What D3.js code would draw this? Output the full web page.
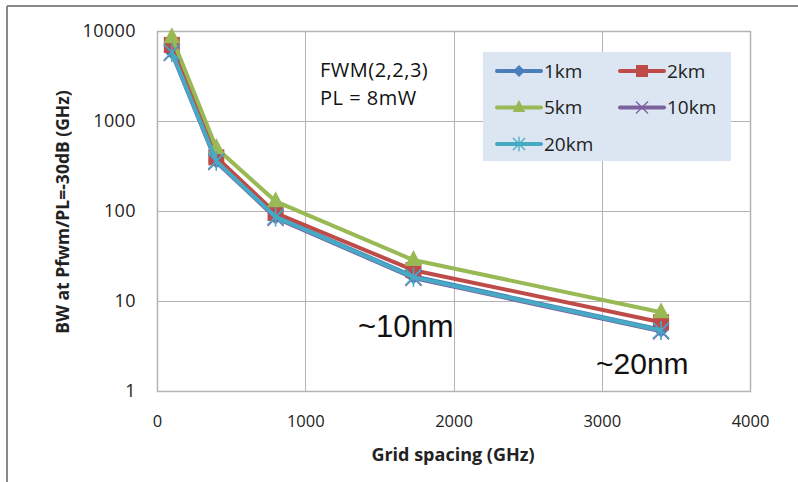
<!DOCTYPE html>
<html>
<head>
<meta charset="utf-8">
<script src="https://cdn.jsdelivr.net/npm/d3@7"></script>
<style>
  body { margin: 0; background: #fff; }
  svg { display: block; }
</style>
</head>
<body>
<div id="chart"></div>
<script>
// data
const gridSpacing = [100, 400, 800, 1730, 3400];
const seriesNames = ["1km", "2km", "5km", "10km", "20km"];
const bw1km  = [5900, 365, 87, 18.8, 4.8];
const bw2km  = [7000, 395, 95, 22, 5.8];
const bw5km  = [8500, 500, 128, 28.5, 7.5];
const bw10km = [5700, 350, 84, 18.0, 4.6];
const bw20km = [5800, 358, 86, 18.4, 4.7];
const xTicks = [0, 1000, 2000, 3000, 4000];
const yTicks = [1, 10, 100, 1000, 10000];

const series = [
    { key: "1km",  values: bw1km,  color: "#4a7ebb", marker: "diamond" },
    { key: "2km",  values: bw2km,  color: "#be4b48", marker: "square" },
    { key: "5km",  values: bw5km,  color: "#98b954", marker: "triangle" },
    { key: "10km", values: bw10km, color: "#7d60a0", marker: "cross" },
    { key: "20km", values: bw20km, color: "#46aac5", marker: "star" }
];

const width = 798, height = 482;
const margin = { left: 157, right: 48, top: 31, bottom: 91 };
const plotW = width - margin.left - margin.right;
const plotH = height - margin.top - margin.bottom;
const FONT = "'Open Sans', 'Liberation Sans', sans-serif";

const svg = d3.select("#chart").append("svg")
    .attr("width", width)
    .attr("height", height);

//outer frame (only top + left visible)
svg.append("line").attr("x1", 7).attr("x2", 798).attr("y1", 6).attr("y2", 6)
    .attr("stroke", "#888").attr("stroke-width", 2);
svg.append("line").attr("x1", 7).attr("x2", 7).attr("y1", 6).attr("y2", 482)
    .attr("stroke", "#888").attr("stroke-width", 2);

const x = d3.scaleLinear().domain([0, 4000]).range([0, plotW]);
const y = d3.scaleLog().domain([1, 10000]).range([plotH, 0]);

const g = svg.append("g").attr("transform", `translate(${margin.left},${margin.top})`);

//grid
g.append("g").selectAll("line.hgrid").data(yTicks)
    .join("line")
        .attr("class", "hgrid")
        .attr("x1", 0).attr("x2", plotW)
        .attr("y1", d => Math.round(y(d)) + 0.5).attr("y2", d => Math.round(y(d)) + 0.5)
        .attr("stroke", "#b3b3b3").attr("stroke-width", 1);
g.append("g").selectAll("line.vgrid").data(xTicks)
    .join("line")
        .attr("class", "vgrid")
        .attr("y1", 0).attr("y2", plotH)
        .attr("x1", d => Math.round(x(d)) + 0.5).attr("x2", d => Math.round(x(d)) + 0.5)
        .attr("stroke", "#b3b3b3").attr("stroke-width", 1);
g.append("rect")
    .attr("x", 0.5).attr("y", 0.5).attr("width", plotW).attr("height", plotH)
    .attr("fill", "none").attr("stroke", "#b3b3b3").attr("stroke-width", 1.5);

//axes
const xAxis = d3.axisBottom(x).tickValues(xTicks).tickFormat(d3.format("d")).tickSize(0).tickPadding(24);
const yAxis = d3.axisLeft(y).tickValues(yTicks).tickFormat(d3.format("d")).tickSize(0).tickPadding(21);
const xAxisG = g.append("g").attr("transform", `translate(0,${plotH})`).call(xAxis);
const yAxisG = g.append("g").call(yAxis);
xAxisG.select(".domain").remove();
yAxisG.select(".domain").remove();
xAxisG.selectAll("text")
    .attr("font-family", FONT).attr("font-size", 16.5).attr("fill", "#222");
yAxisG.selectAll("text")
    .attr("font-family", FONT).attr("font-size", 18).attr("fill", "#222")
    .attr("letter-spacing", 0.4);

//axis titles
svg.append("text")
    .attr("x", 453).attr("y", 461)
    .attr("text-anchor", "middle")
    .attr("font-family", FONT)
    .attr("font-size", 18).attr("font-weight", "bold").attr("fill", "#222")
    .text("Grid spacing (GHz)");
svg.append("text")
    .attr("transform", `translate(69,212) rotate(-90)`)
    .attr("text-anchor", "middle")
    .attr("font-family", FONT)
    .attr("font-size", 17.5).attr("font-weight", "bold").attr("fill", "#222")
    .text("BW at Pfwm/PL=-30dB  (GHz)");

//markers
function markerPath(type, s) {
    switch (type) {
        case "diamond": return `M0,${-s}L${s},0L0,${s}L${-s},0Z`;
        case "square": return `M${-s},${-s}H${s}V${s}H${-s}Z`;
        case "triangle": return `M0,${-s * 1.25}L${s * 1.05},${s * 0.75}L${-s * 1.05},${s * 0.75}Z`;
        case "cross": return `M${-s},${-s}L${s},${s}M${s},${-s}L${-s},${s}`;
        case "star": return `M${-s},${-s}L${s},${s}M${s},${-s}L${-s},${s}M0,${-s * 1.2}V${s * 1.2}`;
    }
}
const filled = t => t === "diamond" || t === "square" || t === "triangle";

const line = d3.line()
    .x((d, i) => x(gridSpacing[i]))
    .y(d => y(d));

const seriesG = g.selectAll("g.series").data(series)
    .join("g").attr("class", "series");
seriesG.append("path")
    .attr("d", d => line(d.values))
    .attr("fill", "none")
    .attr("stroke", d => d.color)
    .attr("stroke-width", 4)
    .attr("stroke-linejoin", "round");
seriesG.each(function (s) {
    d3.select(this).selectAll("path.marker").data(s.values)
        .join("path")
            .attr("class", "marker")
            .attr("transform", (d, i) => `translate(${x(gridSpacing[i])},${y(d)})`)
            .attr("d", markerPath(s.marker, 8))
            .attr("fill", filled(s.marker) ? s.color : "none")
            .attr("stroke", s.color)
            .attr("stroke-width", filled(s.marker) ? 0 : 1.6);
});

//annotations
const annoFont = "'Liberation Sans', Arial, sans-serif";
svg.append("text").attr("x", 320).attr("y", 77)
    .attr("font-family", FONT).attr("font-size", 20).attr("fill", "#111")
    .attr("letter-spacing", 0.5)
    .text("FWM(2,2,3)");
svg.append("text").attr("x", 320).attr("y", 105)
    .attr("font-family", FONT).attr("font-size", 20).attr("fill", "#111")
    .attr("letter-spacing", 0.5)
    .text("PL = 8mW");
svg.append("text").attr("x", 358).attr("y", 337)
    .attr("font-family", annoFont).attr("font-size", 31).attr("fill", "#111")
    .text("~10nm");
svg.append("text").attr("x", 596).attr("y", 374)
    .attr("font-family", annoFont).attr("font-size", 30).attr("fill", "#111")
    .text("~20nm");

//legend
const legend = svg.append("g").attr("transform", "translate(483,52)");
legend.append("rect").attr("width", 248).attr("height", 109).attr("fill", "#dce6f2");
const legendItems = legend.selectAll("g.item").data(series)
    .join("g")
        .attr("class", "item")
        .attr("transform", (d, i) => `translate(${14 + (i % 2) * 123},${19 + Math.floor(i / 2) * 36.5})`);
legendItems.append("line")
    .attr("x1", 0).attr("x2", 44)
    .attr("stroke", d => d.color).attr("stroke-width", 4).attr("stroke-linecap", "round");
legendItems.append("path")
    .attr("transform", "translate(22,0)")
    .attr("d", d => markerPath(d.marker, 6))
    .attr("fill", d => filled(d.marker) ? d.color : "none")
    .attr("stroke", d => d.color)
    .attr("stroke-width", d => filled(d.marker) ? 0 : 1.3);
legendItems.append("text")
    .attr("x", 47).attr("y", 0).attr("dy", "0.35em")
    .attr("font-family", FONT)
    .attr("font-size", 19).attr("fill", "#222")
    .text(d => d.key);
</script>
</body>
</html>
